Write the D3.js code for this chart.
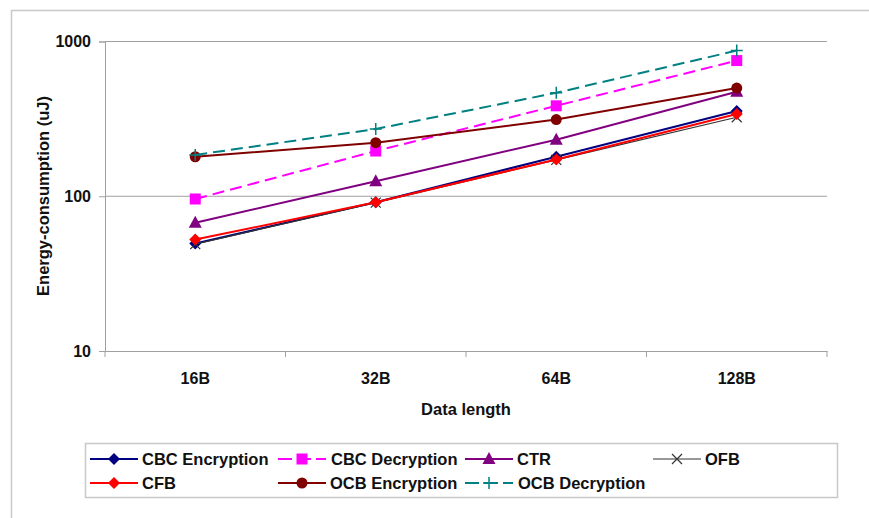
<!DOCTYPE html>
<html>
<head>
<meta charset="utf-8">
<script src="https://cdn.jsdelivr.net/npm/d3@7"></script>
<style>
  body { margin: 0; background: #fff; }
  svg { font-family: "Liberation Sans", Arial, sans-serif; }
</style>
</head>
<body>
<svg id="chart" width="869" height="518"></svg>
<script>
// data
var categories = ["16B", "32B", "64B", "128B"];
var cbcEnc = [49.5, 91.5, 180, 356];
var cbcDec = [96, 196, 384, 753];
var ctr = [67.5, 125, 232, 473];
var ofb = [49, 91, 172, 324];
var cfb = [52.5, 91.5, 173, 340];
var ocbEnc = [180, 222, 313, 500];
var ocbDec = [185, 272, 466, 874];
var yTicks = [10, 100, 1000];

var series = [
  { name: "CBC Encryption", values: cbcEnc, color: "#000080", marker: "diamond", dash: null, width: 2 },
  { name: "CBC Decryption", values: cbcDec, color: "#ff00ff", marker: "square", dash: "12,6", width: 2 },
  { name: "CTR", values: ctr, color: "#800080", marker: "triangle", dash: null, width: 2 },
  { name: "OFB", values: ofb, color: "#333333", marker: "cross", dash: null, width: 1.2 },
  { name: "CFB", values: cfb, color: "#ff0000", marker: "diamond", dash: null, width: 2 },
  { name: "OCB Encryption", values: ocbEnc, color: "#800000", marker: "circle", dash: null, width: 2 },
  { name: "OCB Decryption", values: ocbDec, color: "#008080", marker: "plus", dash: "12,6", width: 2 }
];

var svg = d3.select("#chart");

// outer frame
svg.append("rect")
  .attr("x", 11.5).attr("y", 10.5)
  .attr("width", 900).attr("height", 600)
  .attr("fill", "none").attr("stroke", "#c8c8c8").attr("stroke-width", 1.5);

var plot = { left: 105, right: 827, top: 41.5, bottom: 351 };

var x = d3.scaleBand().domain(categories).range([plot.left, plot.right]);
var y = d3.scaleLog().domain([10, 1000]).range([plot.bottom, plot.top]);

// gridlines
svg.append("g").selectAll("line")
  .data(yTicks.slice(1))
  .enter().append("line")
  .attr("x1", plot.left).attr("x2", plot.right)
  .attr("y1", function (d) { return y(d); })
  .attr("y2", function (d) { return y(d); })
  .attr("stroke", "#a0a0a0").attr("stroke-width", 1);

// y axis
var yAxis = svg.append("g")
  .attr("transform", "translate(" + plot.left + ",0)")
  .call(d3.axisLeft(y).tickValues(yTicks).tickFormat(d3.format("d")).tickSize(6).tickPadding(8));
yAxis.select(".domain").attr("stroke", "#a0a0a0");
yAxis.selectAll(".tick line").attr("stroke", "#a0a0a0");
yAxis.selectAll("text").attr("font-size", 16).attr("font-weight", "bold").attr("fill", "#111");

// x axis
var xAxis = svg.append("g")
  .attr("transform", "translate(0," + plot.bottom + ")")
  .call(d3.axisBottom(x).tickSize(0).tickPadding(22));
xAxis.select(".domain").attr("stroke", "#a0a0a0");
xAxis.selectAll("text").attr("font-size", 16).attr("font-weight", "bold").attr("fill", "#111");
xAxis.selectAll("line.sep")
  .data(d3.range(categories.length + 1))
  .enter().append("line")
  .attr("class", "sep")
  .attr("x1", function (i) { return plot.left + i * x.bandwidth(); })
  .attr("x2", function (i) { return plot.left + i * x.bandwidth(); })
  .attr("y1", 0).attr("y2", 6)
  .attr("stroke", "#a0a0a0");

// axis titles
svg.append("text")
  .attr("x", 466).attr("y", 415)
  .attr("text-anchor", "middle")
  .attr("font-size", 16.5).attr("font-weight", "bold").attr("fill", "#111")
  .text("Data length");

svg.append("text")
  .attr("transform", "translate(49,196) rotate(-90)")
  .attr("text-anchor", "middle")
  .attr("font-size", 16.5).attr("font-weight", "bold").attr("fill", "#111")
  .text("Energy-consumption (uJ)");

function drawMarker(g, type, color, cx, cy) {
  if (type === "diamond") {
    g.append("path").attr("d", "M" + cx + "," + (cy - 6) + "L" + (cx + 6) + "," + cy + "L" + cx + "," + (cy + 6) + "L" + (cx - 6) + "," + cy + "Z")
      .attr("fill", color);
  } else if (type === "square") {
    g.append("rect").attr("x", cx - 5.5).attr("y", cy - 5.5).attr("width", 11).attr("height", 11).attr("fill", color);
  } else if (type === "triangle") {
    g.append("path").attr("d", "M" + cx + "," + (cy - 7) + "L" + (cx + 6.5) + "," + (cy + 5) + "L" + (cx - 6.5) + "," + (cy + 5) + "Z")
      .attr("fill", color);
  } else if (type === "circle") {
    g.append("circle").attr("cx", cx).attr("cy", cy).attr("r", 5.5).attr("fill", color);
  } else if (type === "cross") {
    g.append("path").attr("d", "M" + (cx - 5) + "," + (cy - 5) + "L" + (cx + 5) + "," + (cy + 5) + "M" + (cx + 5) + "," + (cy - 5) + "L" + (cx - 5) + "," + (cy + 5))
      .attr("stroke", color).attr("stroke-width", 1.2).attr("fill", "none");
  } else if (type === "plus") {
    g.append("path").attr("d", "M" + (cx - 6) + "," + cy + "L" + (cx + 6) + "," + cy + "M" + cx + "," + (cy - 6) + "L" + cx + "," + (cy + 6))
      .attr("stroke", color).attr("stroke-width", 1.5).attr("fill", "none");
  }
}

var line = d3.line()
  .x(function (d, i) { return x(categories[i]) + x.bandwidth() / 2; })
  .y(function (d) { return y(d); });

series.forEach(function (s) {
  var g = svg.append("g");
  g.append("path")
    .attr("d", line(s.values))
    .attr("fill", "none")
    .attr("stroke", s.color)
    .attr("stroke-width", s.width)
    .attr("stroke-dasharray", s.dash);
  s.values.forEach(function (v, i) {
    drawMarker(g, s.marker, s.color, x(categories[i]) + x.bandwidth() / 2, y(v));
  });
});

// legend
svg.append("rect")
  .attr("x", 85.5).attr("y", 443.5).attr("width", 752).attr("height", 54)
  .attr("fill", "#fff").attr("stroke", "#c8c8c8").attr("stroke-width", 1.5);

var legendCols = [90, 278, 465, 653];
var legendRows = [459, 483];
var legendSlots = [[0, 0], [1, 0], [2, 0], [3, 0], [0, 1], [1, 1], [2, 1]];

series.forEach(function (s, k) {
  var lx = legendCols[legendSlots[k][0]];
  var ly = legendRows[legendSlots[k][1]];
  var g = svg.append("g");
  g.append("line")
    .attr("x1", lx).attr("x2", lx + 48)
    .attr("y1", ly).attr("y2", ly)
    .attr("stroke", s.color).attr("stroke-width", s.width)
    .attr("stroke-dasharray", s.dash ? "14,5" : null);
  drawMarker(g, s.marker, s.color, lx + 24, ly);
  g.append("text")
    .attr("x", s.dash ? lx + 53 : lx + 52).attr("y", ly + 6)
    .attr("font-size", 16.5).attr("font-weight", "bold").attr("fill", "#111")
    .text(s.name);
});
</script>
</body>
</html>
